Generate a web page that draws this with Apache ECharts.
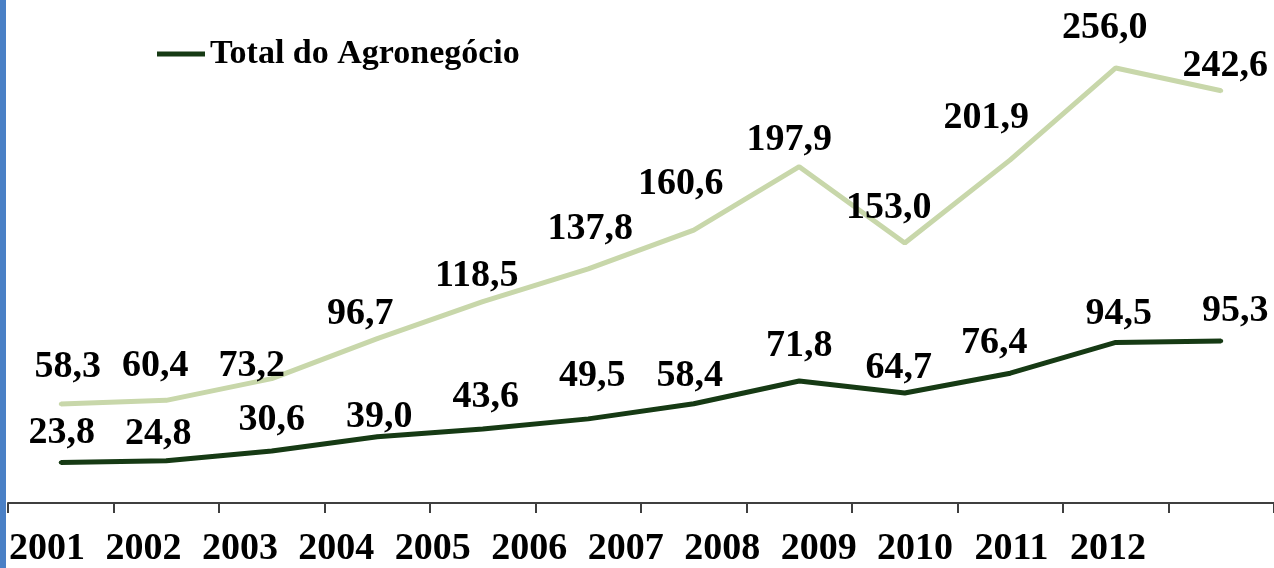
<!DOCTYPE html>
<html>
<head>
<meta charset="utf-8">
<script src="https://cdn.jsdelivr.net/npm/echarts@6/dist/echarts.min.js"></script>
<style>
    html, body { margin: 0; padding: 0; background: #fff; }
    #chart { width: 1274px; height: 568px; }
</style>
</head>
<body>
<div id="chart"></div>
<script>
    // dados do gráfico
    const anos = ['2001', '2002', '2003', '2004', '2005', '2006', '2007', '2008', '2009', '2010', '2011', '2012']
    const totalAgro = [23.8, 24.8, 30.6, 39.0, 43.6, 49.5, 58.4, 71.8, 64.7, 76.4, 94.5, 95.3]
    const serieClara = [58.3, 60.4, 73.2, 96.7, 118.5, 137.8, 160.6, 197.9, 153.0, 201.9, 256.0, 242.6]

    // deslocamento dos rótulos [dx, dy] a partir do ponto (layout)
    const deslocEscuro = [[1, -29], [-8, -27], [0, -31], [2, -20], [3, -32], [4, -43], [-4, -28], [0, -35], [-6, -25], [-16, -30], [3, -28], [14, -30]]
    const deslocClaro = [[7, -37], [-11, -34], [-20, -12], [-17, -24], [-6, -25], [2, -40], [-13, -46], [-10, -27], [-16, -35], [-24, -42], [-11, -40], [4, -25]]

    const fmt = v => v.toFixed(1).replace('.', ',')
    const fonte = 'Liberation Serif'

    function pontos(vals, desloc) {
        return vals.map((v, i) => ({
            value: v,
            label: { offset: desloc[i] }
        }))
    }

    const rotulo = {
        show: true,
        position: 'inside',
        formatter: p => fmt(p.value),
        fontFamily: fonte,
        fontWeight: 'bold',
        fontSize: 38,
        color: '#000'
    }

    const chart = echarts.init(document.getElementById('chart'))
    chart.setOption({
        animation: false,
        backgroundColor: '#ffffff',
        graphic: [{
            type: 'rect',
            left: 0, top: 0,
            shape: { width: 6, height: 568 },
            style: { fill: '#4a80c6' }
        }],
        legend: {
            data: ['Total do Agronegócio'],
            left: 152,
            top: 32,
            itemWidth: 48,
            itemHeight: 5,
            icon: 'rect',
            textStyle: {
                fontFamily: fonte,
                fontWeight: 'bold',
                fontSize: 34,
                color: '#000'
            }
        },
        grid: [
            { left: 8, right: 0, top: 0, bottom: 65 },
            { left: 47, right: 166, top: 0, bottom: 65 }
        ],
        xAxis: [{
            type: 'category',
            gridIndex: 0,
            data: anos,
            boundaryGap: true,
            axisLine: { lineStyle: { color: '#3f3f3f', width: 2 } },
            axisTick: { show: true, length: 10, lineStyle: { color: '#3f3f3f', width: 2 } },
            axisLabel: { show: false }
        }, {
            type: 'category',
            gridIndex: 1,
            data: anos,
            boundaryGap: false,
            axisLine: { show: false },
            axisTick: { show: false },
            axisLabel: {
                interval: 0,
                hideOverlap: false,
                margin: 29,
                fontFamily: fonte,
                fontWeight: 'bold',
                fontSize: 38,
                color: '#000'
            }
        }],
        yAxis: [
            { type: 'value', gridIndex: 0, min: 0, max: 296, show: false },
            { type: 'value', gridIndex: 1, min: 0, max: 296, show: false }
        ],
        series: [{
            name: 'Série clara',
            type: 'line',
            data: pontos(serieClara, deslocClaro),
            symbol: 'circle',
            symbolSize: 4,
            itemStyle: { color: '#c8d7aa' },
            lineStyle: { color: '#c8d7aa', width: 5 },
            label: rotulo
        }, {
            name: 'Total do Agronegócio',
            type: 'line',
            data: pontos(totalAgro, deslocEscuro),
            symbol: 'circle',
            symbolSize: 4,
            itemStyle: { color: '#163a14' },
            lineStyle: { color: '#163a14', width: 5 },
            label: rotulo
        }]
    })
</script>
</body>
</html>
